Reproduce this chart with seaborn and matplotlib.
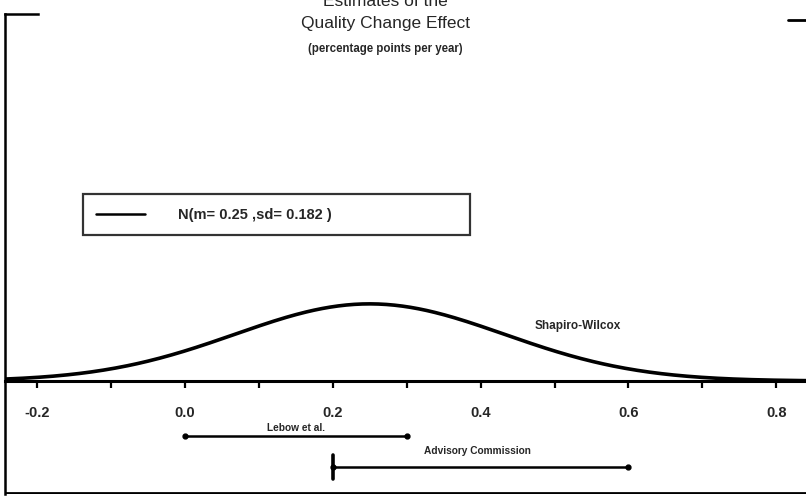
import numpy as np
import pandas as pd
import matplotlib.pyplot as plt
import seaborn as sns
from matplotlib.ticker import MultipleLocator

# distribution shown in the chart
mean = 0.25
sd = 0.182

# study intervals drawn under the axis
study_names = ["Lebow et al.", "Advisory Commission"]
study_low = [0.0, 0.2]
study_high = [0.3, 0.6]
study_label_x = [0.15, 0.396]

tick_values = [-0.2, 0.0, 0.2, 0.4, 0.6, 0.8]
tick_labels = ["-0.2", "0.0", "0.2", "0.4", "0.6", "0.8"]

sns.set_style("white")
plt.rcParams["font.family"] = ["Liberation Sans", "DejaVu Sans"]

x = np.linspace(-0.243, 0.84, 400)
density = np.exp(-0.5 * ((x - mean) / sd) ** 2) / (sd * np.sqrt(2 * np.pi))
df = pd.DataFrame({"x": x, "density": density})

fig = plt.figure(figsize=(8.06, 4.96), dpi=100)
ax = fig.add_axes([0.0062, 0.004, 0.9938, 0.968])

sns.lineplot(data=df, x="x", y="density", ax=ax, color="black", linewidth=2.6,
             label=f"N(m= {mean} ,sd= {sd} )")

ax.set_xlim(-0.243, 0.84)
ax.set_ylim(-3.21, 10.43)

# x axis sits at zero, the rest is the frame
ax.spines["bottom"].set_position(("data", 0))
ax.spines["bottom"].set_linewidth(2.2)
ax.spines["right"].set_visible(False)
ax.spines["left"].set_linewidth(1.8)
ax.spines["top"].set_bounds(-0.243, -0.198)
ax.spines["top"].set_linewidth(1.8)
for s in ax.spines.values():
    s.set_color("black")
ax.axhline(-3.19, color="black", linewidth=2.0)
ax.plot([0.815, 0.84], [10.26, 10.26], color="black", linewidth=2.0)

ax.set_yticks([])
ax.set_xticks(tick_values)
ax.set_xticklabels(tick_labels, fontsize=10.5, fontweight="bold")
ax.xaxis.set_minor_locator(MultipleLocator(0.1))
ax.tick_params(axis="x", which="both", direction="out", length=5, width=1.6,
               bottom=True, color="black")
ax.tick_params(axis="x", which="major", pad=13)
ax.set_xlabel("")
ax.set_ylabel("")

# intervals
label_y = [-1.34, -1.99]
line_y = [-1.56, -2.44]
for name, lo, hi, lx, ly, yy in zip(study_names, study_low, study_high,
                                    study_label_x, label_y, line_y):
    ax.plot([lo, hi], [yy, yy], color="black", linewidth=1.8, marker="o",
            markersize=3.5)
    ax.text(lx, ly, name, fontsize=7.3, fontweight="bold", ha="center",
            va="center")
ax.plot([study_low[1], study_low[1]], [line_y[1] - 0.33, line_y[1] + 0.33],
        color="black", linewidth=2.6)

ax.text(0.473, 1.56, "Shapiro-Wilcox", fontsize=8.5, fontweight="bold",
        ha="left", va="center")

leg = ax.legend(loc="lower left", bbox_to_anchor=(0.0974, 0.540, 0.483, 0.089),
                mode="expand", borderaxespad=0, frameon=True, fancybox=False,
                prop={"size": 10.5, "weight": "bold"},
                borderpad=0.9, handlelength=3.35, handletextpad=2.25)
leg.get_frame().set_edgecolor("black")
leg.get_frame().set_linewidth(1.6)
for line in leg.get_lines():
    line.set_linewidth(1.8)

fig.text(0.478, 0.996, "Estimates of the", fontsize=12.5, ha="center", va="center")
fig.text(0.478, 0.952, "Quality Change Effect", fontsize=12.5, ha="center",
         va="center")
fig.text(0.478, 0.901, "(percentage points per year)", fontsize=8.3,
         fontweight="bold", ha="center", va="center")

fig.savefig("out.png", dpi=100)
